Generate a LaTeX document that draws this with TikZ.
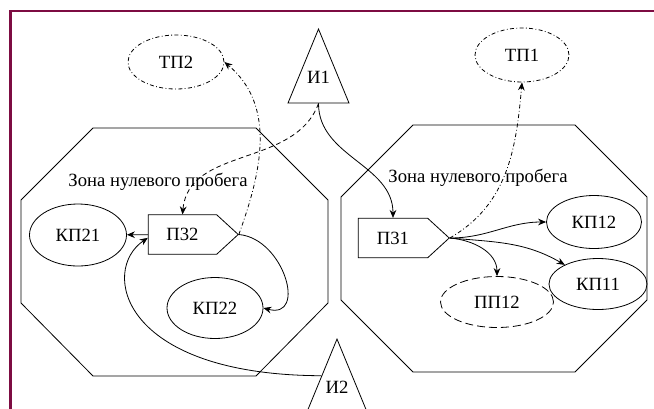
\documentclass[tikz,border=0pt]{standalone}
\usepackage{fontspec}
\setmainfont{Liberation Serif}
\usepackage{tikz}
\usetikzlibrary{arrows.meta,shapes.geometric,shapes.symbols}
\definecolor{framecol}{RGB}{125,12,66}

\begin{document}
\begin{tikzpicture}[x=0.75pt, y=-0.75pt, line width=0.6pt,
    every node/.style={font=\fontsize{14}{16}\selectfont, inner sep=0pt},
    ell/.style={ellipse, draw},
    pz/.style={signal, signal to=east, signal pointer angle=85, draw, minimum height=29.5pt},
    src/.style={isosceles triangle, isosceles triangle stretches, shape border rotate=90, draw, minimum width=45.75pt, minimum height=55.5pt, anchor=apex},
    arr/.style={-{Stealth[length=6pt,width=5pt]}},
    dd/.style={arr, dash pattern=on 3pt off 1.8pt on 0.6pt off 1.8pt},
    dsh/.style={arr, dash pattern=on 3.5pt off 2.5pt},
]
\useasboundingbox (0,0) rectangle (654,408);
\draw[framecol, line width=2pt] (10.5,410) -- (10.5,11) -- (656,11);

\draw (21,200) -- (93,128) -- (256,128) -- (328,200) -- (328,303) -- (256,376) -- (93,376) -- (21,303) -- cycle;
\draw (341,197) -- (413,125) -- (575,125) -- (647,197) -- (647,300) -- (575,372) -- (413,372) -- (341,300) -- cycle;
\node (zl2) at (158,182) {Зона нулевого пробега};
\node (zl1) at (478,178) {Зона нулевого пробега};

\node[src] (i1) at (318.5,28) {};
\node (i1t) at ([yshift=-36.75pt]i1.apex) {И1};
\node[src] (i2) at (337,338) {};
\node (i2t) at ([yshift=-36.75pt]i2.apex) {И2};

\node[ell, dash pattern=on 3pt off 1.8pt on 0.6pt off 1.8pt, minimum width=72pt, minimum height=40.5pt] (tp2) at (176,62) {ТП2};
\node[ell, dash pattern=on 3pt off 1.8pt on 0.6pt off 1.8pt, minimum width=70.5pt, minimum height=40.5pt] (tp1) at (522,55) {ТП1};
\node[ell, minimum width=72.75pt, minimum height=46.5pt] (k21) at (78,235) {КП21};
\node[ell, minimum width=72pt, minimum height=45.75pt] (k22) at (215,308) {КП22};
\node[ell, minimum width=71.25pt, minimum height=39.75pt] (k12) at (594,222) {КП12};
\node[ell, minimum width=73.5pt, minimum height=38.25pt] (k11) at (598,284) {КП11};
\node[ell, dash pattern=on 6pt off 3pt, minimum width=84.75pt, minimum height=38.25pt] (pp12) at (497,302) {ПП12};

\node[pz, minimum width=67.5pt] (p32) at (182.5,234.5) {П32};
\node[pz, minimum width=68.25pt] (p31) at (393,238) {П31};

\draw[dsh] (i1.south) to[out=250, in=85] (p32.north);
\draw[dd] (p32.east) to[out=70, in=-40] (tp2.east);
\draw[arr] (p32.east) to[out=-5, in=-15, looseness=1.5] (k22.east);
\draw[arr] (p32) -- (k21);
\draw[arr] (i2.left side) .. controls (120,375) and (100,270) .. ([yshift=-2.5pt]p32.west);

\draw[arr] (i1.south) to[out=-90, in=90] (p31.north);
\draw[dd] (p31.east) to[out=30, in=-95] (tp1.south);
\draw[arr] (p31.east) to[out=0, in=180] (k12.west);
\draw[arr] (p31.east) to[out=-5, in=150] (k11.150);
\draw[arr] (p31.east) to[out=-5, in=90] (pp12.north);
\end{tikzpicture}
\end{document}
